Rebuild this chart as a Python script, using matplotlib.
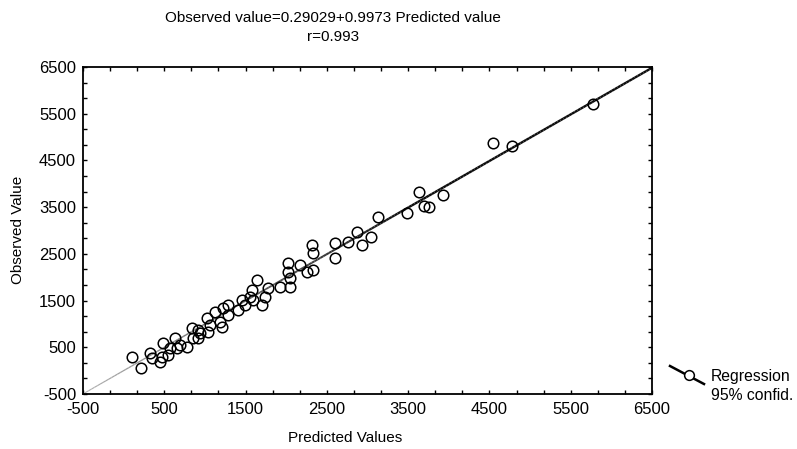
import numpy as np
import matplotlib
matplotlib.use("Agg")
import matplotlib.pyplot as plt
from matplotlib.collections import LineCollection
from matplotlib.lines import Line2D

plt.rcParams['font.family'] = ['Liberation Sans', 'DejaVu Sans']
plt.rcParams['axes.unicode_minus'] = False

# Data
predicted = [99, 213, 324, 345, 447, 468, 488, 549, 570, 632, 652, 693, 776,
             837, 857, 918, 918, 939, 1021, 1041, 1062, 1123, 1185, 1206, 1226,
             1287, 1287, 1410, 1451, 1492, 1554, 1574, 1594, 1636, 1697, 1738,
             1779, 1923, 2025, 2025, 2046, 2046, 2169, 2251, 2313, 2333, 2333,
             2600, 2600, 2760, 2866, 2928, 3040, 3133, 3482, 3638, 3695, 3760,
             3933, 4547, 4773, 5777]
observed = [299, 50, 371, 264, 192, 299, 586, 335, 478, 692, 478, 549, 513,
            907, 692, 870, 692, 799, 1121, 834, 977, 1262, 1048, 941, 1334,
            1406, 1191, 1298, 1512, 1406, 1583, 1727, 1512, 1941, 1406, 1583,
            1762, 1797, 2298, 2120, 1977, 1797, 2262, 2120, 2690, 2512, 2155,
            2726, 2405, 2761, 2975, 2690, 2868, 3296, 3368, 3831, 3531, 3496,
            3760, 4880, 4810, 5703]
intercept = 0.29029
slope = 0.9973
r_value = 0.993
axis_min, axis_max = -500, 6500
major_ticks = [-500, 500, 1500, 2500, 3500, 4500, 5500, 6500]

fig = plt.figure(figsize=(7.97, 4.49), dpi=100)
ax = fig.add_axes([83/797, 1-394/449, (652-83)/797, (394-67)/449])

# regression line, fading toward lower-left like the scan
xs = np.linspace(axis_min, axis_max, 200)
ys = intercept + slope * xs
pts = np.array([xs, ys]).T.reshape(-1, 1, 2)
segs = np.concatenate([pts[:-1], pts[1:]], axis=1)
t = np.clip((xs[:-1] - axis_min) / (3500 - axis_min), 0, 1)
cols = [(0.7 - 0.65*v, 0.7 - 0.65*v, 0.7 - 0.65*v) for v in t]
lws = [0.8 + 0.9*v for v in t]
lc = LineCollection(segs, colors=cols, linewidths=lws, zorder=2)
ax.add_collection(lc)

ax.plot(predicted, observed, 'o', mfc='none', mec='black', ms=7.6, mew=1.1,
        zorder=3, clip_on=False)

ax.set_xlim(axis_min, axis_max)
ax.set_ylim(axis_min, axis_max)
ax.set_xticks(major_ticks)
ax.set_yticks(major_ticks)
minor = np.arange(axis_min, axis_max + 1, 1000/3)
ax.set_xticks(minor, minor=True)
ax.set_yticks(minor, minor=True)
ax.tick_params(which='both', direction='in', length=3, width=1,
               top=True, right=True, labelsize=12)
ax.tick_params(axis='x', which='major', pad=6)
ax.tick_params(axis='y', which='major', pad=5)
ax.tick_params(which='minor', labelbottom=False, labelleft=False)
for s in ax.spines.values():
    s.set_linewidth(1.3)

fig.text(333/797, 1-18/449, "Observed value=0.29029+0.9973 Predicted value",
         ha='center', va='center', fontsize=11)
fig.text(333/797, 1-37/449, f"r={r_value}", ha='center', va='center', fontsize=11)
fig.text(345/797, 1-438/449, "Predicted Values", ha='center', va='center', fontsize=11)
fig.text(18/797, 1-230/449, "Observed Value", ha='center', va='center',
         rotation=90, fontsize=11)

# legend drawn manually
fig.add_artist(Line2D([670/797, 704/797], [1-366/449, 1-384/449],
                      color='black', lw=1.8, transform=fig.transFigure))
fig.add_artist(Line2D([689/797], [1-375/449], marker='o', mfc='white',
                      mec='black', ms=7, mew=1.1, transform=fig.transFigure))
fig.text(711/797, 1-377/449, "Regression", ha='left', va='center', fontsize=11.3)
fig.text(711/797, 1-396/449, "95% confid.", ha='left', va='center', fontsize=11.3)

fig.savefig("out.png", dpi=100)
